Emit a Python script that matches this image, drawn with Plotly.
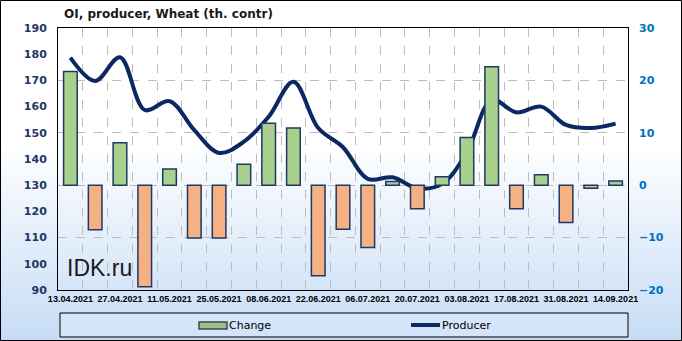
import base64
import plotly.graph_objects as go

# ---------------- data ----------------
dates = ["2021-04-13", "2021-04-20", "2021-04-27", "2021-05-04", "2021-05-11",
         "2021-05-18", "2021-05-25", "2021-06-01", "2021-06-08", "2021-06-15",
         "2021-06-22", "2021-06-29", "2021-07-06", "2021-07-13", "2021-07-20",
         "2021-07-27", "2021-08-03", "2021-08-10", "2021-08-17", "2021-08-24",
         "2021-08-31", "2021-09-07", "2021-09-14"]
producer = [178.7, 169.8, 178.8, 158.7, 162.1, 151.0, 142.3, 146.6, 156.1, 169.5,
            151.8, 144.5, 132.4, 133.0, 128.8, 130.5, 142.6, 162.5, 157.8, 160.0,
            153.0, 151.8, 153.5]
change = [21.7, -8.5, 8.1, -19.4, 3.1, -10.1, -10.1, 4.0, 11.8, 10.9,
          -17.3, -8.4, -11.9, 0.7, -4.5, 1.6, 9.1, 22.6, -4.5, 2.0,
          -7.1, -0.6, 0.8]
title_text = "OI, producer, Wheat (th. contr)"
series_names = ["Change", "Producer"]

# ---------------- geometry helpers ----------------
W, H = 682, 341
L, R, T, B = 58, 54, 28, 51
PW, PH = W - L - R, H - T - B


def px(x):
    return (x - L) / PW


def py(y):
    return (T + PH - y) / PH


DAY = 86400000
GREEN = "#a9d18e"
ORANGE = "#f4b183"
EDGE = "#1f3864"
NAVY = "#0b2862"

bar_colors = [GREEN if v >= 0 else ORANGE for v in change]

fig = go.Figure()
fig.add_trace(go.Bar(x=dates, y=change, yaxis="y2", name=series_names[0],
                     marker=dict(color=bar_colors, line=dict(color=EDGE, width=1.5)),
                     width=7 * DAY * 0.55))
fig.add_trace(go.Scatter(x=dates, y=producer, yaxis="y", name=series_names[1], mode="lines",
                         line=dict(color=NAVY, width=4, shape="spline", smoothing=1.0)))

svg = ("<svg xmlns='http://www.w3.org/2000/svg' width='682' height='341' preserveAspectRatio='none'>"
       "<defs><linearGradient id='g' x1='0' y1='0' x2='0' y2='1'>"
       "<stop offset='0' stop-color='#ffffff'/><stop offset='0.42' stop-color='#ffffff'/>"
       "<stop offset='1' stop-color='#c6dcf6'/></linearGradient></defs>"
       "<rect width='682' height='341' fill='url(#g)'/></svg>")
src = "data:image/svg+xml;base64," + base64.b64encode(svg.encode()).decode()

tick_font_left = dict(family="DejaVu Sans", size=11, color="#1f3864", weight="bold")
tick_font_right = dict(family="DejaVu Sans", size=11, color="#0070c0", weight="bold")

fig.update_layout(
    width=W, height=H,
    margin=dict(l=L, r=R, t=T, b=B, pad=0),
    paper_bgcolor="white",
    plot_bgcolor="rgba(0,0,0,0)",
    showlegend=False,
    images=[dict(source=src, xref="paper", yref="paper", x=px(0), y=py(0),
                 sizex=W / PW, sizey=H / PH, xanchor="left", yanchor="top",
                 sizing="stretch", layer="below")],
    xaxis=dict(type="date", range=["2021-04-09 12:00", "2021-09-17 12:00"],
               tick0="2021-04-13", dtick=14 * DAY, tickformat="%d.%m.%Y",
               tickfont=dict(family="Liberation Sans", size=9, color="black", weight="bold"),
               showgrid=False, showline=True, linecolor="black", linewidth=1, mirror=True,
               ticks="", zeroline=False,
               minor=dict(tick0="2021-04-16 12:00", dtick=7 * DAY, showgrid=True,
                          gridcolor="#bdbdbd", griddash="dash", gridwidth=1)),
    yaxis=dict(range=[90, 190], dtick=10, tickfont=tick_font_left, showgrid=False,
               showline=True, linecolor="black", linewidth=1, mirror=True, ticks="",
               zeroline=False, ticklabelstandoff=8),
    yaxis2=dict(range=[-20, 30], dtick=10, overlaying="y", side="right",
                tickfont=tick_font_right, showgrid=True, gridcolor="#bdbdbd",
                griddash="dash", gridwidth=1, zeroline=False, ticks="",
                ticklabelstandoff=10),
)

shapes = [
    # outer frame
    dict(type="rect", xref="paper", yref="paper", x0=px(0.5), x1=px(W - 0.5),
         y0=py(H - 0.5), y1=py(0.5), line=dict(color="black", width=1), layer="above"),
    # legend box
    dict(type="rect", xref="paper", yref="paper", x0=px(60), x1=px(628),
         y0=py(337), y1=py(313), line=dict(color="black", width=1),
         fillcolor="rgba(214,230,249,0.85)", layer="below"),
    # legend: Change symbol
    dict(type="rect", xref="paper", yref="paper", x0=px(199), x1=px(227),
         y0=py(329), y1=py(322), line=dict(color="#3a4a5a", width=1.5),
         fillcolor="#9cc283"),
    # legend: Producer symbol
    dict(type="line", xref="paper", yref="paper", x0=px(411), x1=px(440),
         y0=py(325), y1=py(325), line=dict(color=NAVY, width=4)),
]

annotations = [
    dict(text=title_text, xref="paper", yref="paper", x=px(62), y=py(14),
         xanchor="left", yanchor="middle", showarrow=False,
         font=dict(family="DejaVu Sans", size=12, color="#1a1a1a", weight="bold")),
    dict(text="IDK.ru", xref="paper", yref="paper", x=px(65), y=py(268),
         xanchor="left", yanchor="middle", showarrow=False,
         font=dict(family="Liberation Sans", size=23, color="#1a1a1a")),
    dict(text=series_names[0], xref="paper", yref="paper", x=px(227), y=py(325),
         xanchor="left", yanchor="middle", showarrow=False,
         font=dict(family="DejaVu Sans", size=11, color="black")),
    dict(text=series_names[1], xref="paper", yref="paper", x=px(440), y=py(325),
         xanchor="left", yanchor="middle", showarrow=False,
         font=dict(family="DejaVu Sans", size=11, color="black")),
]
fig.update_layout(shapes=shapes, annotations=annotations)

fig.write_html("out.html")
